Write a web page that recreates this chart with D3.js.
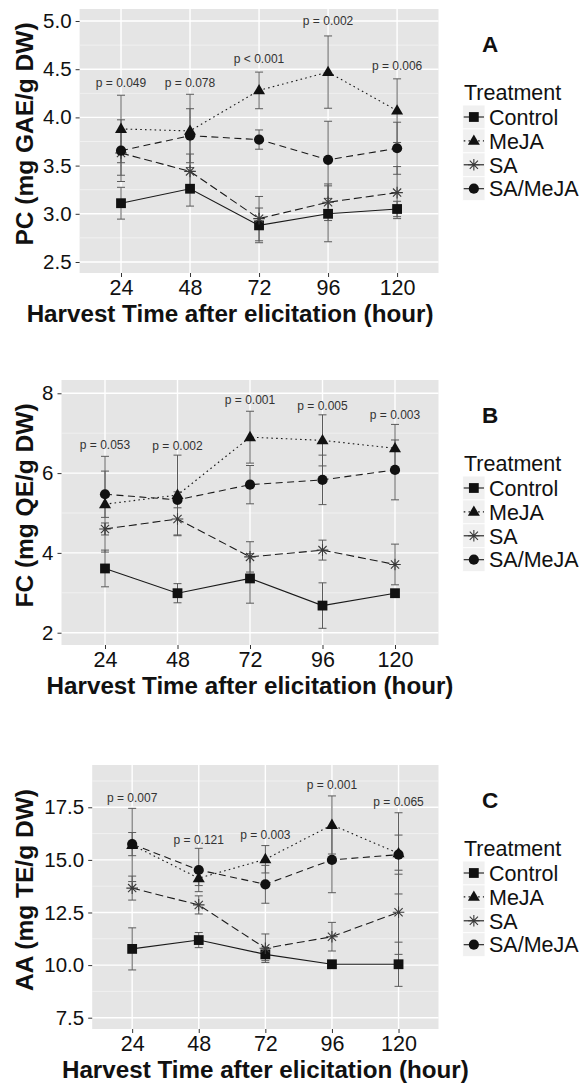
<!DOCTYPE html>
<html><head><meta charset="utf-8">
<script src="https://cdn.jsdelivr.net/npm/d3@7"></script>
<style>body{margin:0;background:#fff}svg{display:block}</style>
</head><body>
<svg id="chart" width="584" height="1084"></svg>
<script>
// ---------- DATA ----------
const hours = ["24","48","72","96","120"];
const treatments = ["Control","MeJA","SA","SA/MeJA"];
const xTitle = "Harvest Time after elicitation (hour)";

// Panel A : PC (mg GAE/g DW)
const pcControl   = [3.11, 3.26, 2.88, 3.00, 3.05];
const pcControlSE = [0.165, 0.18, 0.18, 0.29, 0.08];
const pcMeJA      = [3.88, 3.86, 4.28, 4.47, 4.07];
const pcMeJASE    = [0.35, 0.38, 0.19, 0.375, 0.33];
const pcSA        = [3.63, 3.44, 2.95, 3.12, 3.22];
const pcSASE      = [0.23, 0.18, 0.23, 0.19, 0.27];
const pcSAMeJA    = [3.655, 3.81, 3.77, 3.56, 3.68];
const pcSAMeJASE  = [0.32, 0.28, 0.10, 0.40, 0.27];
const pcPLabels   = ["p = 0.049","p = 0.078","p < 0.001","p = 0.002","p = 0.006"];
const pcPLabelY   = [4.355, 4.355, 4.61, 5.0, 4.54];
const pcTicks     = [2.5, 3.0, 3.5, 4.0, 4.5, 5.0];

// Panel B : FC (mg QE/g DW)
const fcControl   = [3.61, 2.99, 3.36, 2.68, 2.99];
const fcControlSE = [0.46, 0.24, 0.62, 0.57, 0.05];
const fcMeJA      = [5.22, 5.45, 6.90, 6.82, 6.62];
const fcMeJASE    = [1.20, 1.00, 0.65, 0.64, 0.60];
const fcSA        = [4.60, 4.85, 3.90, 4.07, 3.71];
const fcSASE      = [0.15, 0.42, 0.38, 0.25, 0.51];
const fcSAMeJA    = [5.47, 5.33, 5.71, 5.83, 6.08];
const fcSAMeJASE  = [0.58, 0.20, 0.48, 0.62, 0.75];
const fcPLabels   = ["p = 0.053","p = 0.002","p = 0.001","p = 0.005","p = 0.003"];
const fcPLabelY   = [6.70, 6.68, 7.83, 7.68, 7.46];
const fcTicks     = [2, 4, 6, 8];

// Panel C : AA (mg TE/g DW)
const aaControl   = [10.77, 11.19, 10.51, 10.04, 10.04];
const aaControlSE = [1.00, 0.36, 0.30, 0.15, 1.05];
const aaMeJA      = [15.71, 14.13, 15.03, 16.66, 15.31];
const aaMeJASE    = [1.74, 0.35, 0.65, 1.38, 1.93];
const aaSA        = [13.66, 12.86, 10.80, 11.35, 12.51];
const aaSASE      = [0.57, 0.43, 0.68, 0.68, 2.00];
const aaSAMeJA    = [15.75, 14.52, 13.84, 15.00, 15.25];
const aaSAMeJASE  = [0.55, 1.03, 0.90, 1.56, 0.93];
const aaPLabels   = ["p = 0.007","p = 0.121","p = 0.003","p = 0.001","p = 0.065"];
const aaPLabelY   = [17.93, 15.95, 16.18, 18.59, 17.74];
const aaTicks     = [7.5, 10.0, 12.5, 15.0, 17.5];

// ---------- LAYOUT ----------
const FONT = "'Liberation Sans', Arial, Helvetica, sans-serif";
const panels = [
  { letter:"A", yTitle:"PC (mg GAE/g DW)", left:79.6, right:438.5, top:9, bottom:273,
    yDomain:[2.386, 5.1245], ticks:pcTicks, fmt:d3.format(".1f"), xTitleShift:-29,
    means:[pcControl,pcMeJA,pcSA,pcSAMeJA], ses:[pcControlSE,pcMeJASE,pcSASE,pcSAMeJASE],
    pl:pcPLabels, ply:pcPLabelY },
  { letter:"B", yTitle:"FC (mg QE/g DW)", left:61.5, right:438.5, top:380, bottom:645,
    yDomain:[1.692, 8.333], ticks:fcTicks, fmt:d3.format("d"), xTitleShift:0,
    means:[fcControl,fcMeJA,fcSA,fcSAMeJA], ses:[fcControlSE,fcMeJASE,fcSASE,fcSAMeJASE],
    pl:fcPLabels, ply:fcPLabelY },
  { letter:"C", yTitle:"AA (mg TE/g DW)", left:92.2, right:438.5, top:765, bottom:1029,
    yDomain:[6.963, 19.51], ticks:aaTicks, fmt:d3.format(".1f"), xTitleShift:0,
    means:[aaControl,aaMeJA,aaSA,aaSAMeJA], ses:[aaControlSE,aaMeJASE,aaSASE,aaSAMeJASE],
    pl:aaPLabels, ply:aaPLabelY }
];

const styles = {
  "Control": {dash:null},
  "MeJA":    {dash:"1.6,3.2"},
  "SA":      {dash:"8,4"},
  "SA/MeJA": {dash:"7,4.5"}
};

const svg = d3.select("#chart");
svg.append("rect").attr("width",584).attr("height",1084).attr("fill","#fff");

function drawShape(g, name, cx, cy, scale) {
  const s = scale || 1;
  if (name === "Control") {
    const w = 9.8*s;
    g.append("rect").attr("x",cx-w/2).attr("y",cy-w/2).attr("width",w).attr("height",w).attr("fill","#111");
  } else if (name === "MeJA") {
    const w = 12*s, h = 10.4*s;
    g.append("path").attr("d",`M${cx},${cy-h*0.62}L${cx+w/2},${cy+h*0.38}L${cx-w/2},${cy+h*0.38}Z`).attr("fill","#111");
  } else if (name === "SA") {
    const r = 5.8*s, d = r*0.7071;
    g.append("path").attr("d",`M${cx-r},${cy}H${cx+r}M${cx},${cy-r}V${cy+r}M${cx-d},${cy-d}L${cx+d},${cy+d}M${cx-d},${cy+d}L${cx+d},${cy-d}`)
      .attr("stroke","#3a3a3a").attr("stroke-width",1.1).attr("fill","none");
  } else {
    g.append("circle").attr("cx",cx).attr("cy",cy).attr("r",5.1*s).attr("fill","#111");
  }
}

panels.forEach(p => {
  const g = svg.append("g");
  const x = d3.scalePoint().domain(hours).range([p.left, p.right]).padding(0.6);
  const y = d3.scaleLinear().domain(p.yDomain).range([p.bottom, p.top]);

  // panel background
  g.append("rect").attr("x",p.left).attr("y",p.top).attr("width",p.right-p.left)
    .attr("height",p.bottom-p.top).attr("fill","#e5e5e5");

  // minor grid (midpoints between major ticks, within domain)
  const step = p.ticks[1]-p.ticks[0];
  const minor = [];
  for (let v = p.ticks[0]-step/2; v <= p.yDomain[1]; v += step) {
    if (v >= p.yDomain[0] && !p.ticks.includes(v)) minor.push(v);
  }
  g.selectAll(".mn").data(minor).enter().append("line")
    .attr("x1",p.left).attr("x2",p.right).attr("y1",d=>y(d)).attr("y2",d=>y(d))
    .attr("stroke","#f7f7f7").attr("stroke-width",0.7);
  g.selectAll(".mj").data(p.ticks).enter().append("line")
    .attr("x1",p.left).attr("x2",p.right).attr("y1",d=>y(d)).attr("y2",d=>y(d))
    .attr("stroke","#ffffff").attr("stroke-width",1.4);
  g.selectAll(".mx").data(hours).enter().append("line")
    .attr("x1",d=>x(d)).attr("x2",d=>x(d)).attr("y1",p.top).attr("y2",p.bottom)
    .attr("stroke","#ffffff").attr("stroke-width",1.4);

  // axes
  const ax = g.append("g").attr("transform",`translate(0,${p.bottom})`)
    .call(d3.axisBottom(x).tickSize(4).tickPadding(3));
  ax.select(".domain").remove();
  ax.selectAll("line").attr("stroke","#333");
  ax.selectAll("text").attr("font-family",FONT).attr("font-size",21.5).attr("fill","#111")
    .attr("dy","0.72em");

  const ay = g.append("g").attr("transform",`translate(${p.left},0)`)
    .call(d3.axisLeft(y).tickValues(p.ticks).tickFormat(p.fmt).tickSize(4).tickPadding(4));
  ay.select(".domain").remove();
  ay.selectAll("line").attr("stroke","#333");
  ay.selectAll("text").attr("font-family",FONT).attr("font-size",20.5).attr("fill","#111");

  // titles
  g.append("text").attr("x",(p.left+p.right)/2 + p.xTitleShift).attr("y",p.bottom+49)
    .attr("text-anchor","middle").attr("font-family",FONT).attr("font-weight","bold")
    .attr("font-size",24.2).attr("fill","#111").text(xTitle);
  g.append("text").attr("transform",`translate(33,${(p.top+p.bottom)/2-7}) rotate(-90)`)
    .attr("text-anchor","middle").attr("font-family",FONT).attr("font-weight","bold")
    .attr("font-size",24.5).attr("fill","#111").text(p.yTitle);

  // error bars
  const cap = 4;
  treatments.forEach((t,i) => {
    const eg = g.append("g").attr("stroke","#5a5a5a").attr("stroke-width",1).attr("fill","none");
    hours.forEach((h,j) => {
      const m = p.means[i][j], s = p.ses[i][j], cx = x(h);
      eg.append("path").attr("d",
        `M${cx},${y(m+s)}V${y(m-s)}M${cx-cap},${y(m+s)}H${cx+cap}M${cx-cap},${y(m-s)}H${cx+cap}`);
    });
  });

  // lines
  const line = d3.line().x((d,j)=>x(hours[j])).y(d=>y(d));
  treatments.forEach((t,i) => {
    g.append("path").datum(p.means[i]).attr("d",line).attr("fill","none")
      .attr("stroke","#1a1a1a").attr("stroke-width",1.1)
      .attr("stroke-dasharray",styles[t].dash);
  });

  // points
  treatments.forEach((t,i) => {
    p.means[i].forEach((m,j) => drawShape(g, t, x(hours[j]), y(m)));
  });

  // p labels
  g.selectAll(".pl").data(p.pl).enter().append("text")
    .attr("x",(d,j)=>x(hours[j])).attr("y",(d,j)=>y(p.ply[j]))
    .attr("dy","0.35em").attr("text-anchor","middle").attr("font-family",FONT)
    .attr("font-size",12).attr("fill","#333").text(d=>d);

  // panel letter
  g.append("text").attr("x",482).attr("y",p.top+35).attr("dy","0.36em")
    .attr("font-family",FONT).attr("font-weight","bold").attr("font-size",22.5).attr("fill","#111")
    .text(p.letter);

  // legend
  const lg = g.append("g");
  lg.append("text").attr("x",464).attr("y",p.top+90.5).attr("font-family",FONT)
    .attr("font-size",21.5).attr("fill","#111").text("Treatment");
  const kw = 22.3, kh = 23.9, kx = 462.7;
  treatments.forEach((t,i) => {
    const cy = p.top + 108 + i*kh;
    lg.append("rect").attr("x",kx).attr("y",cy-kh/2).attr("width",kw).attr("height",kh)
      .attr("fill","#f0f0f0").attr("stroke","#fff").attr("stroke-width",0.8);
    lg.append("line").attr("x1",kx+1).attr("x2",kx+kw-1).attr("y1",cy).attr("y2",cy)
      .attr("stroke","#1a1a1a").attr("stroke-width",1.1)
      .attr("stroke-dasharray", t==="MeJA" ? "1.6,3.2" : null);
    drawShape(lg, t, kx+kw/2, cy, 1);
    lg.append("text").attr("x",489).attr("y",cy).attr("dy","0.36em").attr("font-family",FONT)
      .attr("font-size",21.5).attr("fill","#111").text(t);
  });
});
</script>
</body></html>
